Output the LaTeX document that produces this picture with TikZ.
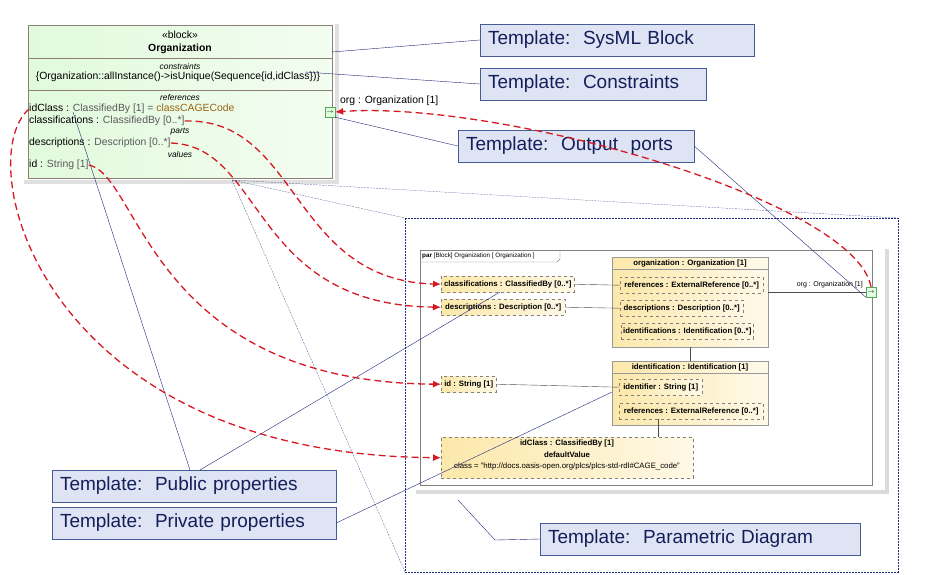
\documentclass[tikz,border=0pt]{standalone}
\usepackage{fontspec}
\setmainfont{Liberation Sans}
\usetikzlibrary{arrows.meta,positioning}
\definecolor{calfill}{RGB}{222,228,243}
\definecolor{calline}{RGB}{70,90,150}
\definecolor{caltext}{RGB}{20,30,90}
\definecolor{blkfill}{RGB}{225,250,220}
\definecolor{partfill}{RGB}{252,232,170}
\definecolor{tracered}{RGB}{215,25,35}
\definecolor{navy}{RGB}{30,40,120}
\definecolor{valbrown}{RGB}{150,100,20}
\tikzset{
  callout/.style={draw=calline, fill=calfill, text=caltext, font=\fontsize{19}{21}\selectfont,
    inner sep=0pt, align=left, minimum height=32pt},
  part/.style={draw=gray, dashed, left color=partfill, right color=partfill!30, inner xsep=2pt,
    inner ysep=0pt, minimum height=16pt, text height=6pt, text depth=2pt,
    font=\fontsize{7.8}{8}\selectfont\bfseries, anchor=north west, align=left},
  bigpart/.style={draw=gray!80, left color=partfill, right color=partfill!25},
  port/.style={draw=gray!70!green, fill=green!12, minimum size=10pt, inner sep=0pt,
    font=\fontsize{6}{6}\selectfont},
  trace/.style={draw=tracered, line width=1.3pt, dash pattern=on 7pt off 4pt, -{Latex[length=8pt,width=7pt]}},
  pointer/.style={draw=navy, thin},
  guide/.style={draw=navy, very thin, dash pattern=on 2pt off 1pt},
  txt/.style={inner sep=0pt, font=\fontsize{10.4}{12}\selectfont},
  comp/.style={inner sep=0pt, font=\fontsize{8.4}{9}\selectfont\itshape}
}
\begin{document}
\begin{tikzpicture}[x=1pt, y=-1pt]
\useasboundingbox (0,0) rectangle (928,574);

% Organization block
\fill[black!12] (24,24) rectangle (339,184);
\fill[white] (20,20) rectangle (335,180);
\draw[gray!80!brown, left color=blkfill, right color=blkfill!40] (28,25) rectangle (332,178);
\draw[gray!80!brown] (28,58) -- (332,58) (28,90) -- (332,90);
\node[txt] (stereo) at (180,35) {«block»};
\node[txt, font=\fontsize{10.4}{12}\selectfont\bfseries] (blkname) at (180,49) {Organization};
\node[comp] at (180,66) {constraints};
\node[txt] (constr) at (178,77) {\{Organization::allInstance()->isUnique(Sequence\{id,idClass\})\}};
\node[comp] at (180,97) {references};
\node[txt, anchor=west] (idclass) at (29,109) {idClass : \textcolor{black!65}{ClassifiedBy [1] =} \textcolor{valbrown}{classCAGECode}};
\node[txt, anchor=west] (classif) at (29,121) {classifications : \textcolor{black!65}{ClassifiedBy [0..*]}};
\node[comp] at (180,132) {parts};
\node[txt, anchor=west] (descr) at (29,143) {descriptions : \textcolor{black!65}{Description [0..*]}};
\node[comp] at (180,154) {values};
\node[txt, anchor=west] (idval) at (29,165) {id : \textcolor{black!65}{String [1]}};
\node[port] (outport) at (330,112) {$\to$};
\node[txt, anchor=west] (portlbl) at (340,101) {org : Organization [1]};

% Parametric diagram
\draw[guide] (405,218) rectangle (898,572);
\draw[guide] (232,180) -- (405,218) (232,180) -- (898,218) (232,180) -- (405,572);
\fill[black!14] (416,249) rectangle (889,494);
\fill[white] (412,245) rectangle (885,490);
\draw[gray] (420,250) rectangle (872,485);
\draw[gray] (420,262) -- (557,262) -- (560,259) -- (560,250);
\node[txt, anchor=west, font=\fontsize{6.3}{7}\selectfont] at (422,256) {\textbf{par} [Block] Organization [ Organization ]};

\draw[bigpart] (612,257) rectangle (768,347);
\draw[gray!80] (612,269) -- (768,269);
\node[txt, font=\fontsize{7.8}{8}\selectfont\bfseries] (orgpart) at (690,263) {organization : Organization [1]};
\draw[bigpart] (612,361) rectangle (768,425);
\draw[gray!80] (612,373) -- (768,373);
\node[txt, font=\fontsize{7.8}{8}\selectfont\bfseries] (identpart) at (690,367) {identification : Identification [1]};

\node[part, minimum width=133pt] (pclass) at (441,276) {classifications : ClassifiedBy [0..*]};
\node[part, minimum width=124pt] (pdescr) at (441,299) {descriptions : Description [0..*]};
\node[part, minimum width=55pt] (pid) at (441,376) {id : String [1]};
\node[part, minimum width=143pt] (pref1) at (620,277) {references : ExternalReference [0..*]};
\node[part, minimum width=123pt] (pdesc2) at (620,300) {descriptions : Description [0..*]};
\node[part, minimum width=132pt] (pidents) at (621,323) {identifications : Identification [0..*]};
\node[part, minimum width=83pt] (pidf) at (619,379) {identifier : String [1]};
\node[part, minimum width=144pt] (pref2) at (619,403) {references : ExternalReference [0..*]};
\node[draw=gray, dashed, left color=partfill, right color=partfill!30, minimum width=252pt,
  minimum height=41pt, anchor=north west, inner sep=0pt] (pidcl) at (441,437) {};
\node[txt, font=\fontsize{7.8}{8}\selectfont\bfseries] at (567,443) {idClass : ClassifiedBy [1]};
\node[txt, font=\fontsize{7.8}{8}\selectfont\bfseries] at (567,455) {defaultValue};
\node[txt, font=\fontsize{7.8}{8}\selectfont] at (567,466) {class = "http://docs.oasis-open.org/plcs/plcs-std-rdl\#CAGE\_code"};
\node[port] (parport) at (871,292) {$\to$};
\node[txt, anchor=east, font=\fontsize{7}{7}\selectfont] (parportlbl) at (863,285) {org : Organization [1]};

% Bindings
\draw[gray!60!black] (pclass.east) -- (pref1.west);
\draw[gray!60!black] (pdescr.east) -- (pdesc2.west);
\draw[gray!60!black] (pid.east) -- (pidf.west);
\draw[gray!60!black] (768,292) -- (parport.west);
\draw[gray!60!black] (690,347) -- (690,361);
\draw[gray!60!black] (658,419) -- (658,437);

% Callouts
\node[callout, text width=258pt, minimum width=274pt, inner xsep=8pt] (cblock) at (617,40) {Template:\ \ SysML Block};
\node[callout, text width=210pt, minimum width=226pt, inner xsep=8pt] (cconstr) at (593,84) {Template:\ \ Constraints};
\node[callout, text width=220pt, minimum width=236pt, inner xsep=8pt] (cport) at (576,146) {Template:\ \ Output\ \ ports};
\node[callout, text width=268pt, minimum width=284pt, inner xsep=8pt] (cpub) at (194,486) {Template:\ \ Public properties};
\node[callout, text width=268pt, minimum width=284pt, inner xsep=8pt] (cpriv) at (194,523) {Template:\ \ Private properties};
\node[callout, text width=304pt, minimum width=320pt, inner xsep=8pt] (cpar) at (700,539) {Template:\ \ Parametric Diagram};

% Pointers
\draw[pointer] (332,52) -- (cblock.west);
\draw[pointer] (305,72) -- (cconstr.west);
\draw[pointer] (outport.south east) -- (cport.west);
\draw[pointer] (cport.east) -- (parport.south west);
\draw[pointer] (73,112) -- (190,470);
\draw[pointer] (200,470) -- (500,292);
\draw[pointer] (cpriv.east) -- (612,392);
\draw[pointer] (cpar.west) -- (495,540) -- (458,500);

% Traces
\draw[trace] (parport.north) .. controls (855,200) and (500,100) .. (outport.east);
\draw[trace] (classif.east) .. controls (300,118) and (290,280) .. (pclass.west);
\draw[trace] (descr.east) .. controls (265,146) and (250,305) .. (pdescr.west);
\draw[trace] (idval.east) .. controls (140,175) and (150,382) .. (pid.west);
\draw[trace] (idclass.west) .. controls (-30,160) and (40,455) .. (pidcl.west);
\end{tikzpicture}
\end{document}
